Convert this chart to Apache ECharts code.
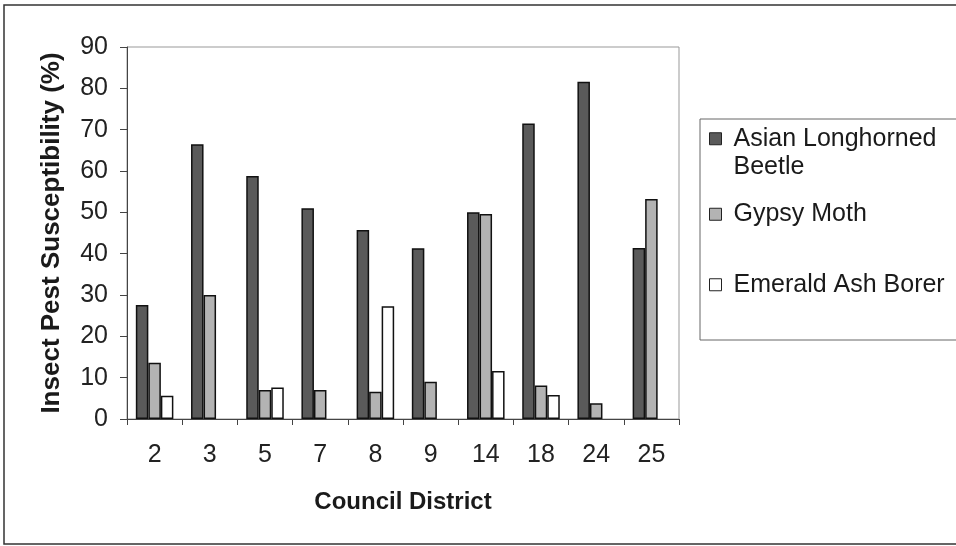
<!DOCTYPE html>
<html>
<head>
<meta charset="utf-8">
<script src="https://cdn.jsdelivr.net/npm/echarts@6/dist/echarts.min.js"></script>
<style>
html,body{margin:0;padding:0;background:#fff;}
#c{width:956px;height:546px;}
</style>
</head>
<body>
<div id="c"></div>
<script>
const districts = ['2','3','5','7','8','9','14','18','24','25'];
const asianLonghornedBeetle = [27.6, 66.5, 58.8, 51.0, 45.7, 41.3, 50.0, 71.5, 81.6, 41.4];
const gypsyMoth = [13.6, 30.0, 7.0, 7.0, 6.6, 9.0, 49.6, 8.1, 3.8, 53.2];
const emeraldAshBorer = [5.6, null, 7.6, null, 27.3, null, 11.6, 5.8, null, null];
const seriesNames = ['Asian Longhorned Beetle', 'Gypsy Moth', 'Emerald Ash Borer'];
const yTicks = {min: 0, max: 90, interval: 10};

const FONT = '"Liberation Sans", Arial, sans-serif';
const colors = ['#5a5a5a', '#b3b3b3', '#ffffff'];

const chart = echarts.init(document.getElementById('c'), null, {renderer: 'canvas'});

function legendFor(name, top, formatter) {
  return {
    data: [{name: name, icon: 'rect'}],
    left: 709,
    top: top,
    padding: 0,
    orient: 'vertical',
    itemWidth: 12,
    itemHeight: 12,
    selectedMode: false,
    formatter: formatter || '{name}',
    textStyle: {fontFamily: FONT, fontSize: 25, color: '#1a1a1a', lineHeight: 28.5, padding: [0, 0, 0, 7]},
    itemStyle: {borderColor: '#222', borderWidth: 1}
  };
}

const vals = [asianLonghornedBeetle, gypsyMoth, emeraldAshBorer];

chart.setOption({
  animation: false,
  backgroundColor: '#fff',
  graphic: [
    {type: 'rect', shape: {x: 4, y: 5, width: 1000, height: 539}, style: {fill: 'none', stroke: '#333', lineWidth: 1.5}, silent: true},
    {type: 'rect', shape: {x: 700, y: 119, width: 300, height: 221}, style: {fill: 'none', stroke: '#666', lineWidth: 1}, silent: true}
  ],
  grid: {left: 127, right: 277, top: 47, bottom: 127, show: true, borderColor: '#999', borderWidth: 1},
  legend: [
    legendFor(seriesNames[0], 96, '\nAsian Longhorned\nBeetle'),
    legendFor(seriesNames[1], 200),
    legendFor(seriesNames[2], 270.5)
  ],
  xAxis: {
    type: 'category',
    data: districts,
    name: 'Council District',
    nameLocation: 'middle',
    nameGap: 71,
    nameTextStyle: {fontFamily: FONT, fontSize: 24, fontWeight: 'bold', color: '#1a1a1a'},
    axisLine: {lineStyle: {color: '#444', width: 1}},
    axisTick: {show: true, length: 6, lineStyle: {color: '#444'}},
    axisLabel: {fontFamily: FONT, fontSize: 25, color: '#222', margin: 24}
  },
  yAxis: {
    type: 'value',
    min: yTicks.min, max: yTicks.max, interval: yTicks.interval,
    name: 'Insect Pest Susceptibility (%)',
    nameLocation: 'middle',
    nameGap: 62,
    nameTextStyle: {fontFamily: FONT, fontSize: 26, fontWeight: 'bold', color: '#1a1a1a'},
    axisLine: {show: true, lineStyle: {color: '#444', width: 1}},
    axisTick: {show: true, length: 7, lineStyle: {color: '#444'}},
    splitLine: {show: false},
    axisLabel: {fontFamily: FONT, fontSize: 25, color: '#222', margin: 19}
  },
  series: seriesNames.map((n, i) => ({
    name: n,
    type: 'bar',
    data: vals[i],
    barGap: '0%',
    barCategoryGap: '32%',
    itemStyle: {color: colors[i], borderColor: '#111', borderWidth: 1.5}
  }))
});
</script>
</body>
</html>
